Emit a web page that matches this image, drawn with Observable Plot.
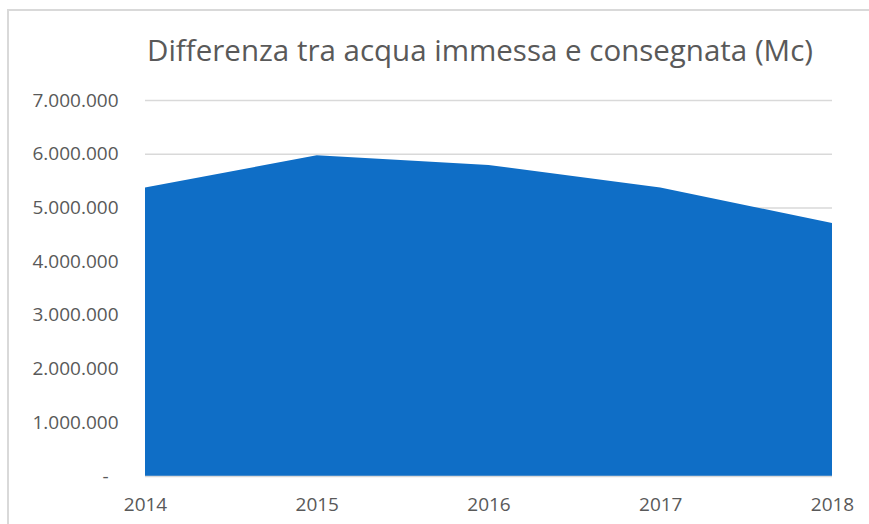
<!DOCTYPE html>
<html>
<head>
<meta charset="utf-8">
<script src="https://cdn.jsdelivr.net/npm/d3@7"></script>
<script src="https://cdn.jsdelivr.net/npm/@observablehq/plot@0.6"></script>
<style>
  html, body { margin: 0; padding: 0; background: #fff; overflow: hidden; }
  #wrap { position: relative; width: 869px; height: 524px; }
  #frame { position: absolute; left: 7px; top: 9px; width: 900px; height: 600px; border: 2px solid #d9d9d9; box-sizing: border-box; }
  #title { position: absolute; left: 0; width: 960px; top: 30px; text-align: center; font-family: "Open Sans", sans-serif; font-size: 29.5px; line-height: 40px; color: #595959; white-space: nowrap; }
  #chart { position: absolute; left: 0; top: 0; }
</style>
</head>
<body>
<div id="wrap">
  <div id="frame"></div>
  <div id="chart"></div>
  <div id="title">Differenza tra acqua immessa e consegnata (Mc)</div>
</div>
<script>
const years = [2014, 2015, 2016, 2017, 2018];
const values = [5370000, 5970000, 5790000, 5370000, 4710000];
const yTicks = [0, 1000000, 2000000, 3000000, 4000000, 5000000, 6000000, 7000000];

const data = years.map((y, i) => ({year: y, value: values[i]}));
const fmt = d => d === 0 ? "-\u00a0\u00a0" : d3.format(",")(d).replace(/,/g, ".");

const chart = Plot.plot({
  width: 869,
  height: 524,
  marginLeft: 145,
  marginRight: 37,
  marginTop: 100,
  marginBottom: 48,
  style: {fontFamily: "'Open Sans', sans-serif", fontSize: "19px", color: "#595959", background: "transparent"},
  x: {type: "linear", domain: [2014, 2018], ticks: years, tickFormat: d => String(d), tickSize: 0, tickPadding: 21, label: null},
  y: {domain: [0, 7000000], ticks: yTicks, tickFormat: fmt, tickSize: 0, tickPadding: 27, label: null},
  marks: [
    Plot.gridY(yTicks.filter(d => d > 0), {stroke: "#d9d9d9", strokeOpacity: 1, strokeWidth: 1.5}),
    Plot.areaY(data, {x: "year", y: "value", fill: "#0F6EC6"}),
    Plot.ruleY([0], {stroke: "#d9d9d9", strokeWidth: 1.5})
  ]
});
document.getElementById("chart").appendChild(chart);
</script>
</body>
</html>
